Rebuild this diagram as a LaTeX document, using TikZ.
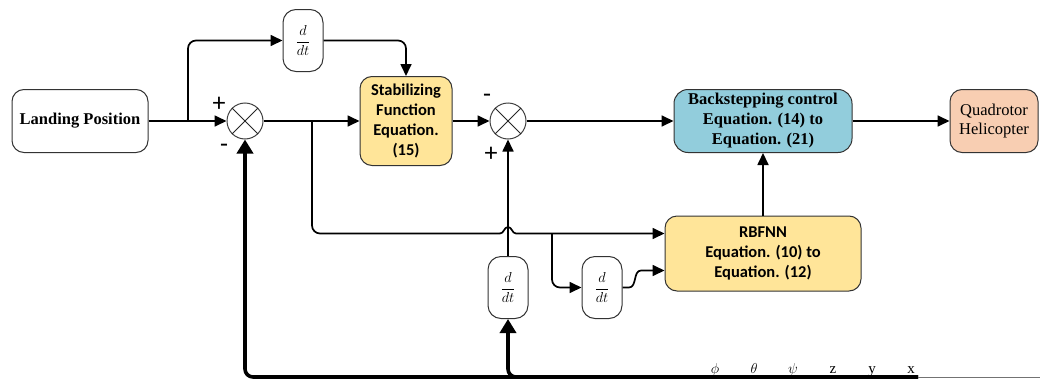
\documentclass[tikz,border=0pt]{standalone}
\usepackage{fontspec}
\setmainfont{Liberation Serif}
\newfontfamily\carl{Carlito}
\usetikzlibrary{arrows.meta,calc}
\definecolor{gold}{RGB}{255,229,153}
\definecolor{bsblue}{RGB}{146,205,220}
\definecolor{peach}{RGB}{248,206,178}
\begin{document}
\begin{tikzpicture}[x=1pt,y=-1pt,
 box/.style={draw=black!80, line width=1pt, rounded corners=12pt, inner sep=0pt, align=center},
 serifb/.style={font=\bfseries\fontsize{16.5}{20}\selectfont},
 serifr/.style={font=\fontsize{16.5}{19}\selectfont},
 sansb/.style={font=\carl\bfseries\fontsize{16.5}{20}\selectfont},
 dbox/.style={draw=black!80, fill=white, line width=1pt, rounded corners=13pt, minimum width=40pt, minimum height=62pt, inner sep=0pt, font=\fontsize{15}{17}\selectfont},
 sumc/.style={circle, draw=black!75, line width=1pt, fill=white, minimum size=36pt, inner sep=0pt},
 conn/.style={line width=1.7pt, -{Triangle[length=12pt,width=11pt]}},
 plain/.style={line width=1.7pt},
 fbk/.style={line width=3.6pt, -{Triangle[length=14pt,width=16pt]}},
 sign/.style={font=\carl\fontsize{26}{26}\selectfont, inner sep=0pt},
 lbl/.style={font=\fontsize{15}{15}\selectfont, inner sep=0pt, anchor=base}
]
\useasboundingbox (0,0) rectangle (1040,380);

% nodes
\node[box, serifb, minimum width=136pt, minimum height=63pt] (land) at (80,121) {Landing Position};
\node[dbox] (d1) at (303,40.5) {$\displaystyle\frac{d}{dt}$};
\node[sumc] (s1) at (245,121) {};
\node[box, sansb, fill=gold, minimum width=92pt, minimum height=89pt] (stab) at (406,121) {Stabilizing\\Function\\Equation.\\(15)};
\node[sumc] (s2) at (508,121) {};
\node[box, serifb, fill=bsblue, rounded corners=14pt, minimum width=178pt, minimum height=63pt] (back) at (763,121) {Backstepping control\\Equation. (14) to\\Equation. (21)};
\node[box, serifr, fill=peach, minimum width=88pt, minimum height=63pt] (quad) at (994,121) {Quadrotor\\Helicopter};
\node[box, sansb, fill=gold, minimum width=196pt, minimum height=75pt] (rbf) at (763,253.5) {RBFNN\\Equation. (10) to\\Equation. (12)};
\node[dbox] (d2) at (508,287.5) {$\displaystyle\frac{d}{dt}$};
\node[dbox] (d3) at (602,287.5) {$\displaystyle\frac{d}{dt}$};

% crosses in summing junctions
\draw[line width=1pt, black!85] (s1.north east) -- (s1.south west) (s1.north west) -- (s1.south east);
\draw[line width=1pt, black!85] (s2.north east) -- (s2.south west) (s2.north west) -- (s2.south east);

% signs
\node[sign] (p1) at (219,104) {+};
\node[sign] (m1) at (224,148) {-};
\node[sign] (m2) at (487,98) {-};
\node[sign] (p2) at (491,154) {+};

% output labels
\node[lbl] (lphi) at (715,373) {$\phi$};
\node[lbl] (lth) at (754,373) {$\theta$};
\node[lbl] (lpsi) at (793,373) {$\psi$};
\node[lbl] (lz) at (833,373) {z};
\node[lbl] (ly) at (872,373) {y};
\node[lbl] (lx) at (911,373) {x};

% coordinates
\coordinate (b1) at (188,121);
\coordinate (b2) at (312,121);
\coordinate (h1) at (500,233.5);
\coordinate (b3) at (552,233.5);
\coordinate (in1) at ([yshift=20pt]rbf.west);
\coordinate (in2) at ([yshift=-17pt]rbf.west);
\coordinate (fb) at (918,377);
\coordinate (fe) at (1040,377);

% connectors
\draw[conn] (land.east) -- (s1.west);
\draw[conn, rounded corners=8pt] (b1) |- (d1.west);
\draw[conn, rounded corners=8pt] (d1.east) -| (stab.north);
\draw[conn] (s1.east) -- (stab.west);
\draw[plain, rounded corners=8pt] (b2) |- (h1);
\draw[conn] (h1) .. controls (504,233.5) and (504,227) .. (508,227) .. controls (512,227) and (512,233.5) .. (516,233.5) -- (in1);
\draw[conn, rounded corners=8pt] (b3) |- (d3.west);
\draw[conn] (d3.east) -- (629,287.5) .. controls (637,287.5) and (633,270.5) .. (641,270.5) -- (in2);
\draw[conn] (stab.east) -- (s2.west);
\draw[conn] (d2.north) -- (s2.south);
\draw[conn] (s2.east) -- (back.west);
\draw[conn] (back.east) -- (quad.west);
\draw[conn] (rbf.north) -- (back.south);
\draw[fbk, rounded corners=8pt] (fb) -| (d2.south);
\draw[fbk, rounded corners=8pt] (fb) -| (s1.south);
\draw[line width=1pt, black!55] (fb) -- (fe);
\end{tikzpicture}
\end{document}
